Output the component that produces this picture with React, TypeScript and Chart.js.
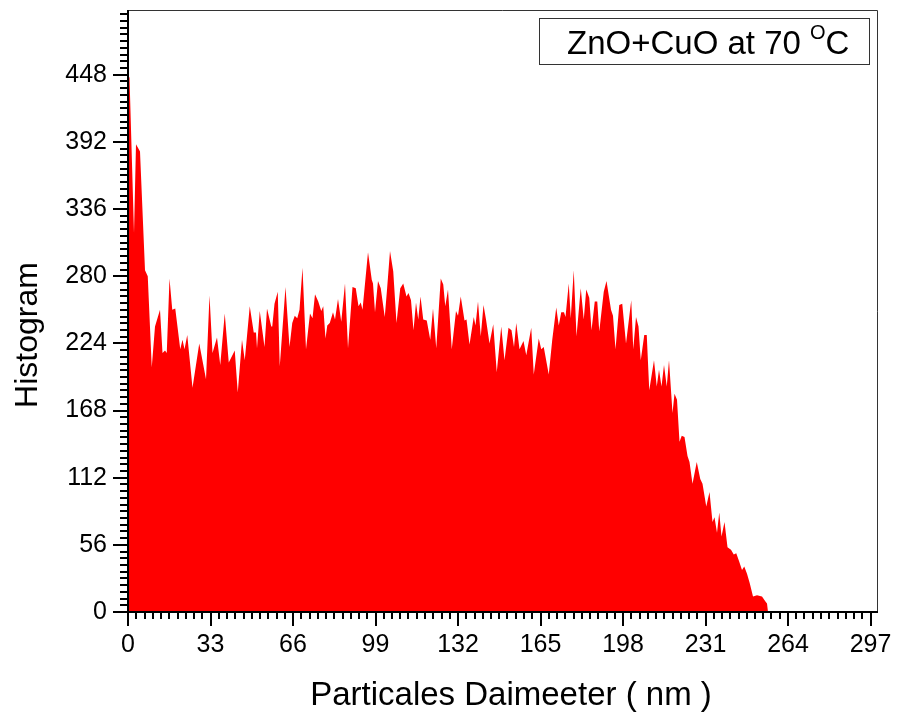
import React, { useEffect, useRef } from "react";
import { Chart, registerables } from "chart.js";
Chart.register(...registerables);

// Particle diameter (nm)
const diameters = [
  0, 0.6, 2.4, 3.2, 4.8, 6.8, 7.9, 9.5, 10.8, 12.8, 13.8, 14.8, 15.5, 16.6, 17.7, 18.9, 20.9, 21.8, 22.6, 23.7, 25.8,
  28.5, 31.2, 32.6, 33.8, 35.6, 36.9, 38.7, 40.3, 42.7, 43.9, 45.6, 46.7, 48.7, 50.3, 51.2, 51.6, 52.7, 54.6, 55.6, 57.3,
  57.7, 58.6, 59.9, 60.7, 63, 64.6, 65.7, 66.7, 67.7, 68.6, 69.8, 71.2, 72.8, 73.8, 74.8, 76.1, 77.3, 78.1, 79, 79.7,
  80.7, 82, 82.8, 84, 85.3, 86.8, 88, 89.8, 91.1, 92.2, 93.1, 93.8, 96, 97.5, 98, 98.8, 100, 101.1, 102.7, 103.5,
  104.8, 106.1, 107.4, 108.9, 110.1, 111.4, 112.2, 113.2, 114.2, 115.2, 116.1, 117, 118.1, 119.5, 120.9, 122, 123.3, 125.1, 126.1, 126.9,
  128, 129.5, 131.2, 132, 133.1, 134.6, 135.4, 136.6, 138.3, 139, 140, 141.1, 142.2, 143.2, 144.6, 146.1, 147.5, 149.3, 150.6, 152.2,
  153.4, 154.4, 155.3, 156.6, 158.2, 159.3, 161.3, 162.3, 164.3, 165.3, 166.3, 168.3, 169.7, 171.3, 172.3, 173.3, 174.4, 175, 176.3, 177.1,
  178.3, 179.4, 181.1, 182.3, 183.3, 184.5, 185.4, 186.7, 187.7, 188.5, 190.3, 191.4, 193.2, 194, 195, 196.5, 197.7, 199.2, 201.3, 202.1,
  203.2, 204.2, 205.1, 206.5, 207.5, 208.5, 210.4, 211.5, 212.4, 213.4, 214.4, 215.5, 216.4, 217.8, 218.6, 219.6, 220.6, 221.5, 222.6, 223.8,
  224.6, 225.8, 227.5, 228.9, 229.8, 231.3, 232.6, 233.8, 234.6, 235.6, 236.5, 237.4, 238.6, 239.8, 241.2, 242.3, 243.3, 244.5, 245.6, 246.5,
  247.6, 248.7, 250, 251.6, 253.6, 254.9, 255.6, 256
];

// Histogram counts
const counts = [
  446, 446, 316, 390, 384, 285, 280, 204, 238, 252, 216, 218, 216, 278, 252, 253, 219, 227, 219, 231, 187,
  224, 194, 264, 216, 229, 206, 249, 208, 218, 183, 227, 210, 255, 233, 233, 220, 251, 221, 253, 238,
  238, 257, 267, 205, 271, 221, 241, 247, 245, 252, 287, 219, 249, 245, 265, 259, 251, 255, 228, 239,
  241, 250, 244, 261, 242, 274, 220, 271, 270, 255, 258, 252, 300, 277, 274, 250, 276, 270, 246, 266,
  301, 284, 241, 270, 274, 263, 266, 260, 235, 258, 244, 263, 244, 243, 227, 253, 220, 278, 273, 255,
  269, 219, 251, 247, 263, 243, 244, 223, 246, 239, 259, 230, 256, 244, 224, 240, 200, 238, 210, 237,
  235, 221, 241, 219, 226, 214, 237, 198, 228, 219, 221, 198, 227, 254, 239, 250, 250, 246, 274, 245,
  285, 230, 270, 244, 269, 262, 235, 259, 259, 234, 267, 276, 252, 247, 219, 256, 257, 224, 260, 219,
  246, 238, 210, 231, 231, 185, 210, 188, 202, 188, 206, 188, 210, 166, 182, 177, 142, 147, 146, 130,
  125, 107, 125, 111, 107, 88, 100, 75, 79, 66, 83, 63, 75, 54, 52, 48, 49, 42, 35, 38,
  32, 24, 13, 14, 13, 9, 7, 0
];

const xTickLabels = ["0", "33", "66", "99", "132", "165", "198", "231", "264", "297"];
const yTickLabels = ["0", "56", "112", "168", "224", "280", "336", "392", "448"];
const xTitle = "Particales Daimeeter ( nm )";
const yTitle = "Histogram";
const legendMain = "ZnO+CuO at 70 ";
const legendSup = "O";
const legendUnit = "C";

const FONT = 'Arial, "Liberation Sans", sans-serif';
const X_MAX = 300;
const Y_MAX = 502;

const decorPlugin = {
  id: "decor",
  afterDraw(chart: any) {
    const { ctx, chartArea } = chart;
    const { left, right, top, bottom } = chartArea;
    const xs = chart.scales.x;
    const ys = chart.scales.y;
    ctx.save();

    // frame (top/right)
    ctx.strokeStyle = "#333";
    ctx.lineWidth = 1;
    ctx.beginPath();
    ctx.moveTo(left, top + 0.5);
    ctx.lineTo(right - 0.5, top + 0.5);
    ctx.lineTo(right - 0.5, bottom);
    ctx.stroke();

    // axis lines
    ctx.strokeStyle = "#000";
    ctx.lineWidth = 2;
    ctx.beginPath();
    ctx.moveTo(left, top);
    ctx.lineTo(left, bottom);
    ctx.moveTo(left - 1, bottom);
    ctx.lineTo(right, bottom);
    ctx.stroke();

    // ticks
    ctx.lineWidth = 2;
    ctx.beginPath();
    for (let i = 0; i * 5.6 <= Y_MAX + 0.01; i++) {
      const v = i * 5.6;
      const py = Math.round(ys.getPixelForValue(v));
      const len = i % 10 === 0 ? 15 : 8;
      ctx.moveTo(left - len, py);
      ctx.lineTo(left, py);
    }
    for (let i = 0; i * 3.3 <= X_MAX + 0.01; i++) {
      const v = i * 3.3;
      const px = Math.round(xs.getPixelForValue(v));
      const len = i % 10 === 0 ? 14 : 7;
      ctx.moveTo(px, bottom);
      ctx.lineTo(px, bottom + len);
    }
    ctx.stroke();

    // axis titles
    ctx.fillStyle = "#000";
    ctx.textAlign = "center";
    ctx.textBaseline = "alphabetic";
    ctx.font = `33px ${FONT}`;
    ctx.fillText(xTitle, 511, 705);
    ctx.font = `32px ${FONT}`;
    ctx.save();
    ctx.translate(37, 335);
    ctx.rotate(-Math.PI / 2);
    ctx.fillText(yTitle, 0, 0);
    ctx.restore();

    // legend box
    ctx.strokeStyle = "#333";
    ctx.lineWidth = 1;
    ctx.strokeRect(539.5, 18.5, 330, 46);
    ctx.textAlign = "left";
    ctx.font = `33px ${FONT}`;
    let x = 567;
    ctx.fillText(legendMain, x, 54);
    x += ctx.measureText(legendMain).width;
    ctx.font = `20px ${FONT}`;
    ctx.fillText(legendSup, x, 39);
    x += ctx.measureText(legendSup).width;
    ctx.font = `33px ${FONT}`;
    ctx.fillText(legendUnit, x, 54);

    ctx.restore();
  },
};

export default function App() {
  const ref = useRef<HTMLCanvasElement | null>(null);
  useEffect(() => {
    document.body.style.margin = "0";
    const canvas = ref.current;
    if (!canvas) return;
    const points = diameters.map((d, i) => ({ x: d, y: counts[i] }));
    const chart = new Chart(canvas, {
      type: "line",
      data: {
        datasets: [
          {
            data: points,
            fill: "origin",
            backgroundColor: "#ff0000",
            borderColor: "#ff0000",
            borderWidth: 0,
            pointRadius: 0,
            tension: 0,
          },
        ],
      },
      options: {
        responsive: false,
        maintainAspectRatio: false,
        animation: false,
        events: [],
        layout: { padding: { left: 0, right: 26, top: 10, bottom: 0 } },
        plugins: { legend: { display: false }, tooltip: { enabled: false }, title: { display: false } },
        scales: {
          x: {
            type: "linear",
            min: 0,
            max: X_MAX,
            grid: { display: false, drawTicks: false },
            border: { display: false },
            ticks: {
              color: "#000",
              font: { family: FONT, size: 25 },
              padding: 18,
              maxRotation: 0,
              autoSkip: false,
              callback: (v: any) => {
                const idx = Math.round(Number(v) / 33);
                return xTickLabels[idx] ?? "";
              },
            },
            afterBuildTicks: (s: any) => {
              s.ticks = xTickLabels.map((t) => ({ value: Number(t) }));
            },
            afterFit: (s: any) => {
              s.height = 101;
              s.paddingLeft = 0;
              s.paddingRight = 0;
            },
          },
          y: {
            type: "linear",
            min: 0,
            max: Y_MAX,
            grid: { display: false, drawTicks: false },
            border: { display: false },
            ticks: {
              color: "#000",
              font: { family: FONT, size: 25 },
              padding: 21,
              autoSkip: false,
              callback: (v: any) => {
                const idx = Math.round(Number(v) / 56);
                return yTickLabels[idx] ?? "";
              },
            },
            afterBuildTicks: (s: any) => {
              s.ticks = yTickLabels.map((t) => ({ value: Number(t) }));
            },
            afterFit: (s: any) => {
              s.width = 128;
              s.paddingTop = 0;
              s.paddingBottom = 0;
            },
          },
        },
      },
      plugins: [decorPlugin],
    } as any);
    return () => chart.destroy();
  }, []);
  return <canvas ref={ref} width={904} height={713} style={{ display: "block" }} />;
}
